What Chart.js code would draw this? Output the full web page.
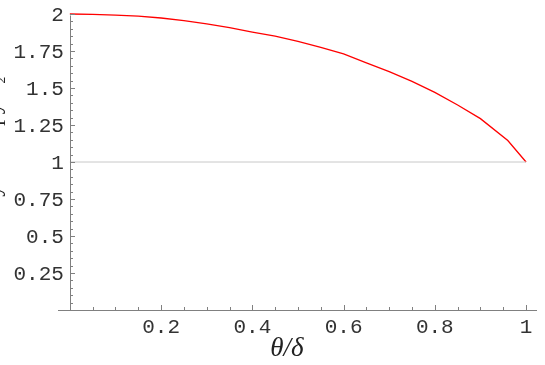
<!DOCTYPE html>
<html>
<head>
<meta charset="utf-8">
<script src="https://cdn.jsdelivr.net/npm/chart.js@4.4.0/dist/chart.umd.min.js"></script>
<style>
html,body{margin:0;padding:0;background:#fff;}
#wrap{position:relative;width:545px;height:365px;}
</style>
</head>
<body>
<div id="wrap"><canvas id="c" width="545" height="365"></canvas></div>
<script>
// Data
const thetaOverDelta = [0, 0.05, 0.1, 0.15, 0.2, 0.25, 0.3, 0.35, 0.4, 0.45, 0.5, 0.55, 0.6, 0.65, 0.7, 0.75, 0.8, 0.85, 0.9, 0.96, 1.0];
const entropy = [2.0, 1.998, 1.993, 1.985, 1.973, 1.955, 1.933, 1.908, 1.878, 1.85, 1.815, 1.775, 1.73, 1.67, 1.61, 1.545, 1.47, 1.385, 1.293, 1.145, 1.0];
const refLineX = [0, 1];
const refLineY = [1, 1];
const xMajorTicks = [0.2, 0.4, 0.6, 0.8, 1];
const xTickLabels = ["0.2", "0.4", "0.6", "0.8", "1"];
const yMajorTicks = [0.25, 0.5, 0.75, 1, 1.25, 1.5, 1.75, 2];
const yTickLabels = ["0.25", "0.5", "0.75", "1", "1.25", "1.5", "1.75", "2"];
const xTitle = "θ/δ";
const yTitle = "Rényi entropy S₂";

const curve = thetaOverDelta.map((x, i) => ({x: x, y: entropy[i]}));
const ref = refLineX.map((x, i) => ({x: x, y: refLineY[i]}));

const axesPlugin = {
  id: 'mmaAxes',
  afterDatasetsDraw(chart) {
    const ctx = chart.ctx;
    const xs = chart.scales.x, ys = chart.scales.y;
    const x0 = xs.getPixelForValue(0), y0 = ys.getPixelForValue(0);
    ctx.save();
    ctx.strokeStyle = '#808080';
    ctx.lineWidth = 1;
    ctx.beginPath();
    ctx.moveTo(xs.left, Math.round(y0) + 0.5);
    ctx.lineTo(xs.right, Math.round(y0) + 0.5);
    ctx.moveTo(Math.round(x0) + 0.5, Math.round(y0));
    ctx.lineTo(Math.round(x0) + 0.5, ys.getPixelForValue(1.99));
    ctx.stroke();
    ctx.beginPath();
    for (let k = 1; k <= 20; k++) {
      const v = k * 0.05;
      const px = Math.round(xs.getPixelForValue(v)) + 0.5;
      const major = (k % 4 === 0);
      ctx.moveTo(px, Math.round(y0));
      ctx.lineTo(px, Math.round(y0) - (major ? 5 : 3));
    }
    for (let k = 1; k <= 40; k++) {
      const v = k * 0.05;
      if (v > 2.0001) break;
      const py = Math.round(ys.getPixelForValue(v)) + 0.5;
      const major = (k % 5 === 0);
      ctx.moveTo(Math.round(x0), py);
      ctx.lineTo(Math.round(x0) + (major ? 5 : 3), py);
    }
    ctx.stroke();
    ctx.fillStyle = '#333';
    ctx.font = '21px "Liberation Mono", "Courier New", monospace';
    ctx.textAlign = 'center';
    ctx.textBaseline = 'middle';
    xMajorTicks.forEach((v, i) => {
      ctx.fillText(xTickLabels[i], xs.getPixelForValue(v), y0 + 17);
    });
    ctx.textAlign = 'right';
    yMajorTicks.forEach((v, i) => {
      ctx.fillText(yTickLabels[i], x0 - 6, ys.getPixelForValue(v) + 1);
    });
    ctx.font = 'italic 27px "Liberation Serif", "DejaVu Serif", serif';
    ctx.textAlign = 'center';
    ctx.textBaseline = 'alphabetic';
    ctx.fillStyle = '#222';
    ctx.fillText(xTitle, 287, 356);
    ctx.save();
    ctx.translate(0, 155);
    ctx.rotate(-Math.PI / 2);
    ctx.font = '23px "Liberation Serif", serif';
    ctx.fillText(yTitle, 0, 0);
    ctx.restore();
    ctx.restore();
  }
};

new Chart(document.getElementById('c'), {
  type: 'scatter',
  data: {
    datasets: [
      {data: ref, showLine: true, borderColor: '#c8c8c8', borderWidth: 1, pointRadius: 0, tension: 0, clip: false},
      {data: curve, showLine: true, borderColor: '#ff0000', borderWidth: 1.3, pointRadius: 0, tension: 0, clip: false}
    ]
  },
  options: {
    responsive: false,
    animation: false,
    events: [],
    layout: {padding: {left: 58, right: 8, top: 14, bottom: 55}},
    plugins: {legend: {display: false}, tooltip: {enabled: false}},
    scales: {
      x: {type: 'linear', min: -0.026, max: 1.024, display: false},
      y: {type: 'linear', min: 0, max: 2, display: false}
    }
  },
  plugins: [axesPlugin]
});
</script>
</body>
</html>
